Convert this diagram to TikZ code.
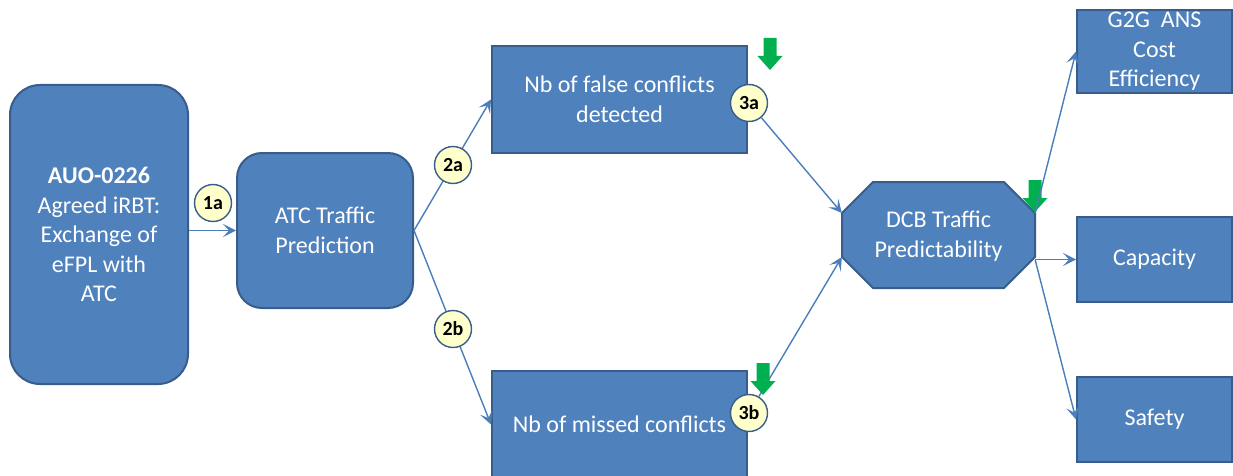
\documentclass[tikz,border=0pt]{standalone}
\usepackage{fontspec}
\setmainfont{Carlito}
\usetikzlibrary{arrows.meta,calc}
\definecolor{boxfill}{HTML}{4F81BD}
\definecolor{boxline}{HTML}{385D8A}
\definecolor{linkcol}{HTML}{4A7EBB}
\definecolor{badgefill}{HTML}{FFFFCC}
\definecolor{downgreen}{HTML}{00B050}
\begin{document}
\begin{tikzpicture}[x=1pt,y=-1pt,
  labelfont/.style={font=\fontsize{24}{29.5}\selectfont},
  box/.style={draw=boxline, line width=2pt, fill=boxfill, text=white,
    align=center, inner sep=0pt, labelfont},
  rbox/.style={box, rounded corners=#1},
  link/.style={draw=linkcol, line width=1.4pt,
    -{Stealth[length=13pt,width=13pt,inset=6pt]}},
  badge/.style={circle, draw=boxline, line width=1.4pt, fill=badgefill,
    minimum size=37pt, inner sep=0pt,
    font=\fontsize{20}{22}\selectfont\bfseries},
  downarrow/.pic={\fill[downgreen] (-6.5,-32) -- (6.5,-32) -- (6.5,-14)
    -- (12.5,-14) -- (0,0) -- (-12.5,-14) -- (-6.5,-14) -- cycle;}
]
\useasboundingbox (0,0) rectangle (1233,476);
\clip (0,0) rectangle (1233,476);

% operational improvement and its first effect
\node[rbox=30pt, minimum width=178pt, minimum height=299pt] (auo) at (99,234.5)
  {\textbf{AUO-0226}\\Agreed iRBT:\\Exchange of\\eFPL with\\ATC};
\node[rbox=25pt, minimum width=176pt, minimum height=155pt] (atc) at (325,230.5)
  {ATC Traffic\\Prediction};

% conflict indicators
\node[box, minimum width=255pt, minimum height=107pt] (false) at (619.5,99.5)
  {Nb of false conflicts\\detected};
\node[box, minimum width=255pt, minimum height=107pt] (missed) at (619.5,424.5)
  {Nb of missed conflicts};

% octagonal DCB node
\draw[draw=boxline, line width=2pt, fill=boxfill]
  (873,182) -- (1004,182) -- (1035,213) -- (1035,257) -- (1004,288)
  -- (873,288) -- (842,257) -- (842,213) -- cycle;
\node[text=white, align=center, labelfont, inner sep=0pt,
  minimum width=193pt, minimum height=106pt] (dcb) at (938.5,236)
  {DCB Traffic\\Predictability};

% key performance areas
\node[box, minimum width=155pt, minimum height=83pt] (g2g) at (1154.5,51.5)
  {G2G~ ANS\\Cost\\Efficiency};
\node[box, minimum width=155pt, minimum height=85pt] (cap) at (1154.5,259.5)
  {Capacity};
\node[box, minimum width=155pt, minimum height=85pt] (saf) at (1154.5,419.5)
  {Safety};

% decrease marker under the outgoing links
\pic at (1035,212) {downarrow};

% links
\draw[link] (auo.east |- atc.west) -- (atc.west);
\draw[link] (atc.east) -- (false.west);
\draw[link] (atc.east) -- (missed.west);

\node[badge] (b1a) at (213,203) {1a};
\node[badge] (b2a) at (453,165) {2a};
\node[badge] (b2b) at (453,329) {2b};
\node[badge] (b3a) at (749,103) {3a};
\node[badge] (b3b) at (749,413) {3b};

\draw[link] (b3a) -- ($(dcb.west)+(0,-23)$);
\draw[link] (b3b) -- ($(dcb.west)+(0,21)$);
\draw[link] ($(dcb.east)+(0,-23)$) -- (g2g.west);
\draw[link] (dcb.east |- cap.west) -- (cap.west);
\draw[link] ($(dcb.east)+(0,24)$) -- (saf.west);

% decrease markers
\pic at (770,70) {downarrow};
\pic at (763,395) {downarrow};
\end{tikzpicture}
\end{document}
